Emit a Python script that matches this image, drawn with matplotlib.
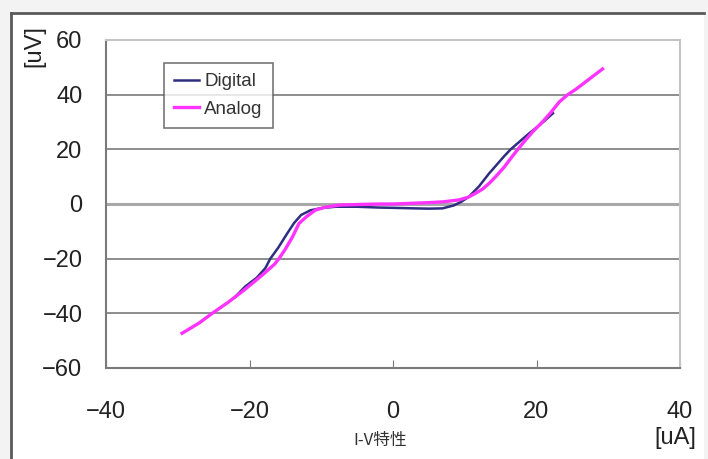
import numpy as np
import matplotlib.pyplot as plt
from matplotlib.patches import Rectangle
from matplotlib.lines import Line2D

# Digital data (current uA, voltage uV)
digital_x = [-22, -20.6, -19, -17.8, -17.1, -16, -14.8, -13.8, -12.8, -11.5, -10, -8, -5, -2, 0,
             3, 5, 6.9, 8.5, 9.5, 10.6, 12, 13.4, 14.5, 15.5, 16.4, 17.5, 19, 20.5, 22.3]
digital_y = [-34, -30.2, -27, -23.5, -20, -16, -11, -7, -4, -2.3, -1.5, -1, -1, -1.3, -1.4,
             -1.6, -1.7, -1.6, -0.5, 0.8, 2.7, 6.5, 11.2, 14.5, 17.5, 20, 22.5, 25.9, 29, 33.2]

# Analog data
analog_x = [-29.4, -27, -25.2, -23, -21, -19.6, -18, -16.5, -15.9, -15, -14, -13.1, -12, -10.8,
            -9.5, -7.5, -5, -2, 0, 2, 5, 7, 9.2, 10.5, 11.5, 12.5, 13.5, 14.3, 15.5, 16.5, 17.4,
            18.5, 19.5, 21, 22, 23.2, 24.3, 25.5, 27, 28, 29.2]
analog_y = [-47.3, -43.5, -40, -36, -32, -29, -25.5, -22, -20, -16.5, -12, -7.1, -4.5, -2.2,
            -1.2, -0.4, -0.2, 0, 0, 0.2, 0.5, 0.8, 1.5, 2.5, 3.9, 5.5, 7.8, 10, 13.5, 17, 20,
            23.5, 26.5, 30.5, 33.5, 37.4, 39.9, 42, 45, 47, 49.4]

x_ticks = [-40, -20, 0, 20, 40]
y_ticks = [-60, -40, -20, 0, 20, 40, 60]

W, H = 708, 459
fig = plt.figure(figsize=(W / 100, H / 100), dpi=100, facecolor="#f3f3f3")

# white chart area with dark frame on left/top
fig.add_artist(Rectangle((11 / W, -0.05), (704 - 11) / W, 1 - 13 / H + 0.05,
                         transform=fig.transFigure, facecolor="white",
                         edgecolor="none", zorder=-10))
fig.add_artist(Line2D([11 / W, 11 / W], [0, 1 - 13 / H], transform=fig.transFigure,
                      color="#5a5a5a", lw=2, zorder=-5))
fig.add_artist(Line2D([11 / W, 704 / W], [1 - 13 / H, 1 - 13 / H], transform=fig.transFigure,
                      color="#5a5a5a", lw=2, zorder=-5))

ax = fig.add_axes([106 / W, 1 - 368 / H, (680 - 106) / W, (368 - 40) / H])
ax.set_facecolor("white")

for yv in [-40, -20, 20, 40]:
    ax.axhline(yv, color="#7a7a7a", lw=1.2, zorder=1)
ax.axhline(0, color="#a8a8a8", lw=2.2, zorder=1)

ax.plot(digital_x, digital_y, color="#2e2e80", lw=1.8, label="Digital", zorder=3)
ax.plot(analog_x, analog_y, color="#ff33ff", lw=2.4, label="Analog", zorder=4)

ax.set_xlim(-40, 40)
ax.set_ylim(-60, 60)
ax.set_xticks(x_ticks)
ax.set_yticks(y_ticks)
ax.tick_params(axis="x", direction="in", length=6, color="#7a7a7a", pad=24,
               labelsize=17, labelcolor="#222222")
ax.tick_params(axis="y", length=0, pad=17, labelsize=17, labelcolor="#222222")
for lab in ax.get_xticklabels() + ax.get_yticklabels():
    lab.set_family("Liberation Sans")

ax.spines["left"].set_color("#7a7a7a")
ax.spines["bottom"].set_color("#7a7a7a")
ax.spines["top"].set_color("#c4c4c4")
ax.spines["right"].set_color("#c4c4c4")
for s in ax.spines.values():
    s.set_linewidth(1.5)

leg = ax.legend(loc="upper left", bbox_to_anchor=((164 - 106) / 574, (368 - 63) / 328),
                prop={"family": "Liberation Sans", "size": 13.5}, frameon=True, fancybox=False,
                edgecolor="#555555", handlelength=1.3, handletextpad=0.3,
                borderpad=0.55, labelspacing=0.55, borderaxespad=0)
leg.get_frame().set_linewidth(1.2)
for t in leg.get_texts():
    t.set_color("#333333")

fig.text(34 / W, 1 - 46 / H, "[uV]", rotation=90, ha="center", va="center",
         fontsize=17, family="Liberation Sans", color="#222222")
fig.text(675 / W, 1 - 438 / H, "[uA]", ha="center", va="center",
         fontsize=17, family="Liberation Sans", color="#222222")
fig.text(380 / W, 1 - 440 / H, "I-V特性", ha="center", va="center",
         fontsize=12, family=["Noto Sans CJK JP", "DejaVu Sans"], color="#333333")

fig.savefig("out.png", dpi=100, facecolor=fig.get_facecolor())
